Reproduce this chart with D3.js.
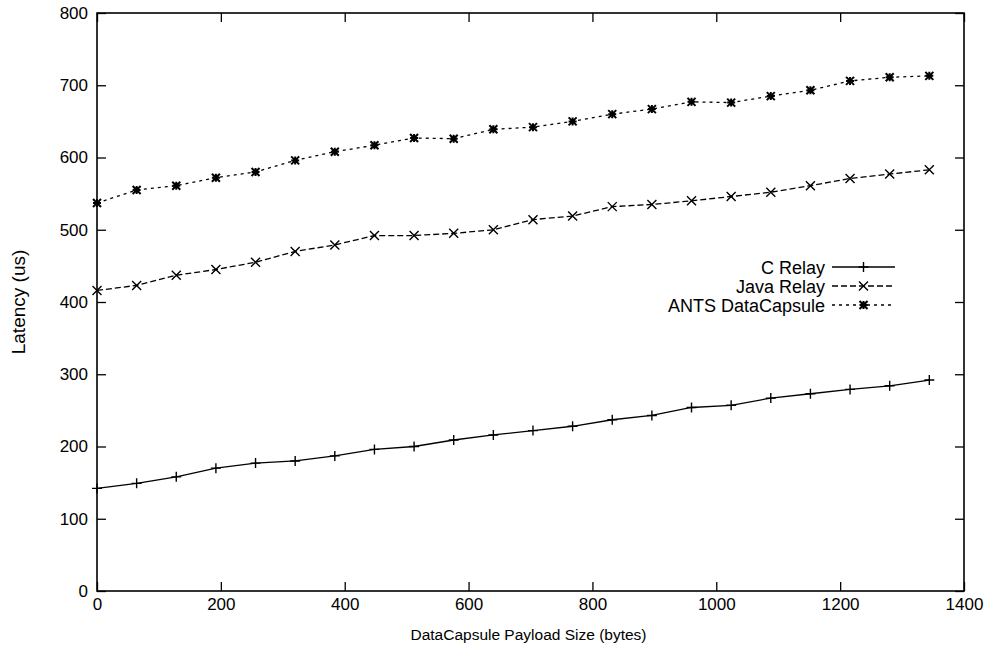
<!DOCTYPE html>
<html>
<head>
<meta charset="utf-8">
<script src="https://cdn.jsdelivr.net/npm/d3@7"></script>
<style>
  body { margin: 0; background: #fff; }
  svg { display: block; font-family: "Liberation Sans", Arial, Helvetica, sans-serif; }
  .tick line { stroke: #000; }
  .domain { display: none; }
</style>
</head>
<body>
<div class="main"></div>
<script>
// payload sizes (bytes)
const sizes = [0, 64, 128, 192, 256, 320, 384, 448, 512, 576, 640, 704, 768, 832, 896, 960, 1024, 1088, 1152, 1216, 1280, 1344];
// latency (us) per series
const cRelay    = [142, 149, 158, 170, 177, 180, 187, 196, 200, 209, 216, 222, 228, 237, 243, 254, 257, 267, 273, 279, 284, 292];
const javaRelay = [416, 423, 437, 445, 455, 470, 479, 492, 492, 495, 500, 514, 519, 532, 535, 540, 546, 552, 561, 571, 577, 583];
const antsCap   = [537, 555, 561, 572, 580, 596, 608, 617, 627, 626, 639, 642, 650, 660, 667, 677, 676, 685, 693, 706, 711, 713];

const seriesNames = ["C Relay", "Java Relay", "ANTS DataCapsule"];
const xTicks = [0, 200, 400, 600, 800, 1000, 1200, 1400];
const yTicks = [0, 100, 200, 300, 400, 500, 600, 700, 800];

const W = 988, H = 649;
const margin = { top: 13, right: 24, bottom: 58, left: 97 };
const width = W - margin.left - margin.right;
const height = H - margin.top - margin.bottom;

const svg = d3.select('.main').append('svg')
    .attr("width", W)
    .attr("height", H);

const g = svg.append("g")
    .attr("transform", "translate(" + margin.left + "," + margin.top + ")");

const x = d3.scaleLinear().domain([0, 1400]).range([0, width]);
const y = d3.scaleLinear().domain([0, 800]).range([height, 0]);

const tickLen = 9;
const fmt = d3.format("d");

// bottom axis (ticks pointing inward)
g.append("g")
    .attr("transform", "translate(0," + height + ")")
    .call(d3.axisBottom(x).tickValues(xTicks).tickFormat(fmt).tickSize(-tickLen).tickPadding(7))
    .call(a => a.selectAll("text").attr("font-size", 17).attr("fill", "#000"));

// top mirror ticks
g.append("g")
    .call(d3.axisTop(x).tickValues(xTicks).tickSize(-tickLen).tickFormat(""));

// left axis
g.append("g")
    .call(d3.axisLeft(y).tickValues(yTicks).tickFormat(fmt).tickSize(-tickLen).tickPadding(9))
    .call(a => a.selectAll("text").attr("font-size", 17).attr("fill", "#000"));

// right mirror ticks
g.append("g")
    .attr("transform", "translate(" + width + ",0)")
    .call(d3.axisRight(y).tickValues(yTicks).tickSize(-tickLen).tickFormat(""));

g.selectAll(".tick line").attr("stroke-width", 1.3);

// frame
g.append("rect")
    .attr("width", width)
    .attr("height", height)
    .attr("fill", "none")
    .attr("stroke", "#000")
    .attr("stroke-width", 1.6);

// axis titles
svg.append("text")
    .attr("x", margin.left + x(700) - 2)
    .attr("y", 640)
    .attr("text-anchor", "middle")
    .attr("font-size", 15.5)
    .text("DataCapsule Payload Size (bytes)");

svg.append("text")
    .attr("transform", "translate(25," + (margin.top + y(400)) + ") rotate(-90)")
    .attr("text-anchor", "middle")
    .attr("font-size", 19)
    .text("Latency (us)");

// markers
function marker(sel, type, s) {
  let p = "";
  if (type === "plus" || type === "star") {
    p += "M" + (-s) + ",0H" + s + "M0," + (-s) + "V" + s;
  }
  if (type === "cross" || type === "star") {
    p += "M" + (-s) + "," + (-s) + "L" + s + "," + s + "M" + (-s) + "," + s + "L" + s + "," + (-s);
  }
  sel.append("path").attr("d", p).attr("stroke", "#000").attr("stroke-width", type === "star" ? 2 : 1.4).attr("fill", "none");
}

const series = [
  { name: seriesNames[0], values: cRelay,    dash: null,  mark: "plus",  size: 5 },
  { name: seriesNames[1], values: javaRelay, dash: "6,3", mark: "cross", size: 4.5 },
  { name: seriesNames[2], values: antsCap,   dash: "3,4", mark: "star",  size: 4 }
];

const line = d3.line()
    .x(d => x(d[0]))
    .y(d => y(d[1]));

series.forEach(function(s) {
  const pts = sizes.map((v, i) => [v, s.values[i]]);
  g.append("path")
      .datum(pts)
      .attr("d", line)
      .attr("fill", "none")
      .attr("stroke", "#000")
      .attr("stroke-width", 1.3)
      .attr("stroke-dasharray", s.dash);
  g.selectAll(null).data(pts).enter().append("g")
      .attr("transform", d => "translate(" + x(d[0]) + "," + y(d[1]) + ")")
      .each(function() { marker(d3.select(this), s.mark, s.size); });
});

// legend
const legend = svg.append("g").attr("transform", "translate(825,267)");
series.forEach(function(s, i) {
  const row = legend.append("g").attr("transform", "translate(0," + (i * 19) + ")");
  row.append("text")
      .attr("x", 0)
      .attr("y", 6.5)
      .attr("text-anchor", "end")
      .attr("font-size", 18)
      .text(s.name);
  row.append("line")
      .attr("x1", 7).attr("x2", 70)
      .attr("stroke", "#000")
      .attr("stroke-width", 1.3)
      .attr("stroke-dasharray", s.dash);
  const m = row.append("g").attr("transform", "translate(38.5,0)");
  marker(m, s.mark, s.size);
});
</script>
</body>
</html>
